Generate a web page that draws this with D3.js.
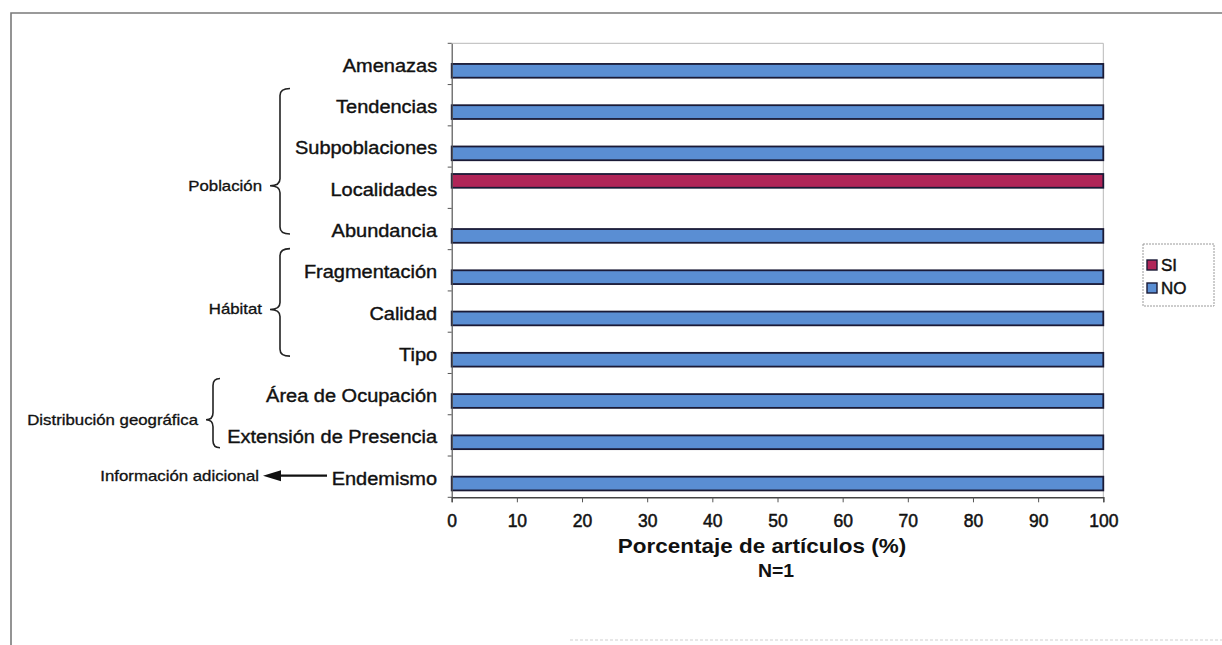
<!DOCTYPE html>
<html>
<head>
<meta charset="utf-8">
<script src="https://cdn.jsdelivr.net/npm/d3@7/dist/d3.min.js"></script>
<style>
  html, body { margin: 0; padding: 0; background: #fff; }
  svg { display: block; font-family: "Liberation Sans", Arial, sans-serif; }
</style>
</head>
<body>
<svg id="chart" width="1222" height="645"></svg>
<script>
// Criteria evaluated in the articles (top to bottom)
const categories = [
  "Amenazas", "Tendencias", "Subpoblaciones", "Localidades", "Abundancia",
  "Fragmentación", "Calidad", "Tipo", "Área de Ocupación",
  "Extensión de Presencia", "Endemismo"
];
// Percentage of articles that report (SI) / do not report (NO) each criterion
const seriesNames = ["SI", "NO"];
const siValues = [0, 0, 0, 100, 0, 0, 0, 0, 0, 0, 0];
const noValues = [100, 100, 100, 0, 100, 100, 100, 100, 100, 100, 100];
const xTicks = [0, 10, 20, 30, 40, 50, 60, 70, 80, 90, 100];

// Bracketed groups on the left
const groups = [
  { label: "Población", from: "Tendencias", to: "Abundancia", tipAt: "Localidades" },
  { label: "Hábitat", from: "Fragmentación", to: "Tipo", tipAt: "Calidad" },
  { label: "Distribución geográfica", from: "Área de Ocupación", to: "Extensión de Presencia", tipAt: null }
];
const arrowNote = { label: "Información adicional", at: "Endemismo" };

const colors = { SI: "#b02558", NO: "#5a8ed3" };
const ink = "#111";

const svg = d3.select("#chart");
const plot = { left: 451.7, right: 1103.3, top: 43.3, bottom: 497.3 };

const x = d3.scaleLinear().domain([0, 100]).range([plot.left, plot.right]);
const y = d3.scaleBand().domain(categories).range([plot.top, plot.bottom]);
const ySeries = d3.scaleBand().domain(seriesNames).range([0, y.bandwidth()]).paddingOuter(0.5);

// Text that is slightly wider than the font's natural width
function wideText(sel, px, py, str, size, sx, anchor, weight) {
  return sel.append("text")
    .attr("transform", `translate(${px},${py}) scale(${sx},1)`)
    .attr("text-anchor", anchor)
    .attr("dy", "0.35em")
    .attr("font-size", size)
    .attr("font-weight", weight || "normal")
    .attr("fill", ink)
    .attr("stroke", weight === "bold" ? "none" : ink)
    .attr("stroke-width", 0.3)
    .text(str);
}

// Outer frame
svg.append("path")
  .attr("d", "M11,645 L11,13 L1222,13")
  .attr("fill", "none").attr("stroke", "#7a7a7a").attr("stroke-width", 1.6);
svg.append("line")
  .attr("x1", 570).attr("x2", 1222).attr("y1", 640).attr("y2", 640)
  .attr("stroke", "#d0d0d0").attr("stroke-width", 1.2).attr("stroke-dasharray", "3,2");

// Plot area border (top and right)
svg.append("path")
  .attr("d", `M${plot.left},${plot.top} L${plot.right},${plot.top} L${plot.right},${plot.bottom}`)
  .attr("fill", "none").attr("stroke", "#b8b8b8").attr("stroke-width", 1);

// Bars
const rows = categories.map((c, i) => ({ cat: c, SI: siValues[i], NO: noValues[i] }));
const bars = [];
rows.forEach(r => seriesNames.forEach(s => { if (r[s] > 0) bars.push({ cat: r.cat, s, v: r[s] }); }));

svg.append("g").selectAll("rect").data(bars).join("rect")
  .attr("x", x(0))
  .attr("y", d => y(d.cat) + ySeries(d.s))
  .attr("width", d => x(d.v) - x(0))
  .attr("height", ySeries.bandwidth())
  .attr("fill", d => colors[d.s])
  .attr("stroke", "#1a1a36")
  .attr("stroke-width", 1.8);

// Y axis: category labels centred on bands, ticks on band boundaries
const yAxis = svg.append("g")
  .attr("transform", `translate(${plot.left},0)`)
  .call(d3.axisLeft(y).tickSize(0).tickPadding(13.5));
yAxis.select(".domain").attr("stroke", "#555").attr("stroke-width", 1.2);
yAxis.selectAll(".tick").attr("transform", d => `translate(0,${y(d) + y.bandwidth() / 2 + 2})`);
yAxis.selectAll("text")
  .attr("transform", "scale(1.08,1)")
  .attr("font-size", 18.5)
  .attr("font-family", "'Liberation Sans', Arial, sans-serif")
  .attr("fill", ink)
  .attr("stroke", ink).attr("stroke-width", 0.4);

const boundaries = categories.map(c => y(c)).concat([plot.bottom]);
svg.append("g").selectAll("line").data(boundaries).join("line")
  .attr("x1", plot.left - 4).attr("x2", plot.left)
  .attr("y1", d => d).attr("y2", d => d)
  .attr("stroke", "#555").attr("stroke-width", 1);

// X axis
const xAxis = svg.append("g")
  .attr("transform", `translate(0,${plot.bottom})`)
  .call(d3.axisBottom(x).tickValues(xTicks).tickSize(5).tickPadding(12));
xAxis.select(".domain").attr("stroke", "#444").attr("stroke-width", 1.4);
xAxis.selectAll(".tick line").attr("stroke", "#555");
xAxis.selectAll("text")
  .attr("font-size", 17.5)
  .attr("font-family", "'Liberation Sans', Arial, sans-serif")
  .attr("fill", ink)
  .attr("stroke", ink).attr("stroke-width", 0.5);

// Axis title and sample size
wideText(svg, 762, 546, "Porcentaje de artículos (%)", 21, 1.07, "middle", "bold");
wideText(svg, 776, 571, "N=1", 18.5, 1.05, "middle", "bold");

// Curly braces with group labels
function bracePath(xl, xr, top, bottom, tip) {
  const xm = (xl + xr) / 2;
  const r = Math.min(7, (bottom - top) / 6);
  return `M${xr},${top} Q${xm},${top} ${xm},${top + r}` +
    ` L${xm},${tip - r} Q${xm},${tip} ${xl},${tip}` +
    ` Q${xm},${tip} ${xm},${tip + r}` +
    ` L${xm},${bottom - r} Q${xm},${bottom} ${xr},${bottom}`;
}
const braceGeom = [
  { xl: 270, xr: 290, top: y("Tendencias") + 4, bottom: y("Abundancia") + y.bandwidth() * 0.62 },
  { xl: 270, xr: 290, top: y("Fragmentación") - 1, bottom: y("Tipo") + y.bandwidth() * 0.58 },
  { xl: 206, xr: 220, top: y("Área de Ocupación") + 5, bottom: y("Extensión de Presencia") + y.bandwidth() * 0.8 }
];
groups.forEach((g, i) => {
  const b = braceGeom[i];
  const tip = g.tipAt ? y(g.tipAt) + y.bandwidth() / 2 - 2 : (y(g.from) + y(g.to) + y.bandwidth()) / 2 + 5;
  svg.append("path")
    .attr("d", bracePath(b.xl, b.xr, b.top, b.bottom, tip))
    .attr("fill", "none").attr("stroke", "#222").attr("stroke-width", 1.6);
  wideText(svg, b.xl - 8, tip, g.label, 14, 1.2, "end");
});

// Arrow pointing to the additional-information label
const ay = y(arrowNote.at) + y.bandwidth() / 2 - 1;
svg.append("line")
  .attr("x1", 276).attr("x2", 327).attr("y1", ay).attr("y2", ay)
  .attr("stroke", ink).attr("stroke-width", 2.2);
svg.append("path")
  .attr("d", `M263,${ay} L281,${ay - 5.5} L281,${ay + 5.5} Z`)
  .attr("fill", ink);
wideText(svg, 259, ay, arrowNote.label, 14, 1.2, "end");

// Legend
const legend = svg.append("g").attr("transform", "translate(1143,244)");
legend.append("rect")
  .attr("x", 0).attr("y", 0).attr("width", 71).attr("height", 62)
  .attr("fill", "#fff").attr("stroke", "#9a9a9a").attr("stroke-width", 1)
  .attr("stroke-dasharray", "2,1");
seriesNames.forEach((s, i) => {
  const ly = 21 + i * 23;
  legend.append("rect")
    .attr("x", 4).attr("y", ly - 5).attr("width", 10).attr("height", 10)
    .attr("fill", colors[s]).attr("stroke", "#1a1a36").attr("stroke-width", 1.4);
  legend.append("text")
    .attr("x", 18).attr("y", ly).attr("dy", "0.36em")
    .attr("font-size", 17).attr("fill", ink)
    .attr("stroke", ink).attr("stroke-width", 0.45)
    .text(s);
});
</script>
</body>
</html>
